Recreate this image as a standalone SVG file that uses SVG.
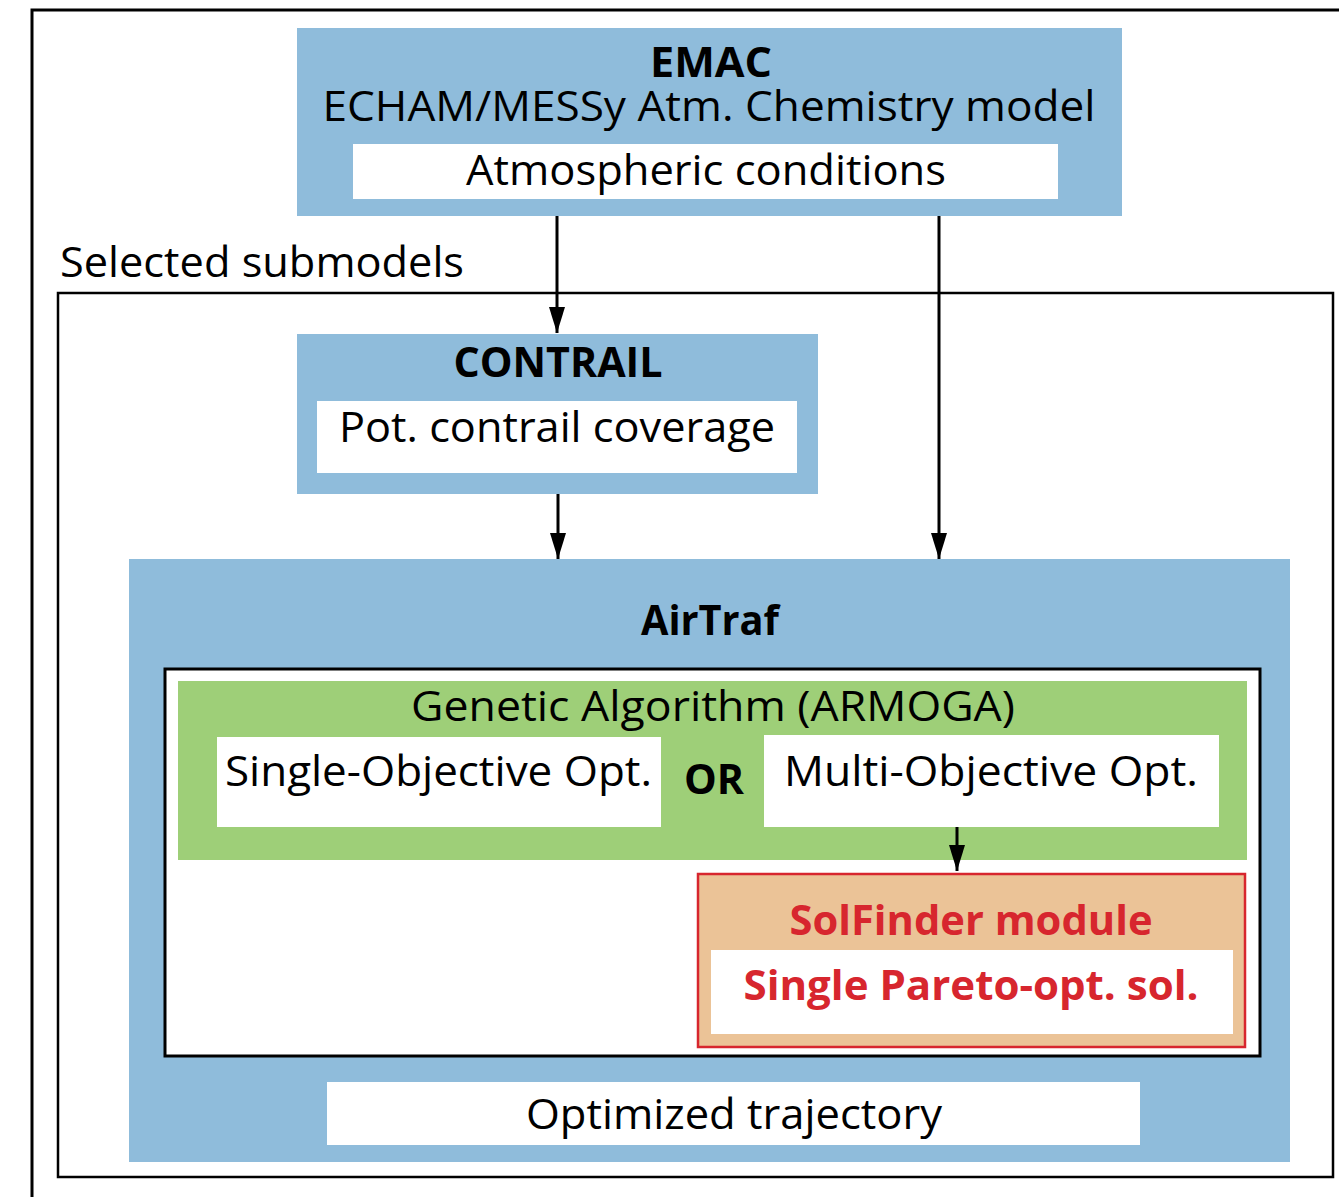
<svg xmlns="http://www.w3.org/2000/svg" width="1339" height="1197" viewBox="0 0 1339 1197">
<defs>
<style>
.t{font-family:"Open Sans","Liberation Sans",sans-serif;font-size:42px;fill:#000}
.b{font-weight:bold}
.r{fill:#d7262e}
.blue{fill:#8fbcdb}
.w{fill:#fff}
.conn{stroke:#000;stroke-width:3;fill:none}
</style>
<marker id="ah" markerWidth="26" markerHeight="16" refX="26" refY="8" orient="auto" markerUnits="userSpaceOnUse" viewBox="0 0 26 16">
<path d="M0,0 L26,8 L0,16 Z" fill="#000"/>
</marker>
</defs>
<rect width="1339" height="1197" fill="#fff"/>
<g id="outer-frame">
<rect x="32" y="10" width="1400" height="1300" fill="none" stroke="#000" stroke-width="3"/>
</g>
<g id="submodels-frame">
<rect x="58" y="293" width="1275" height="884" fill="none" stroke="#000" stroke-width="2.5"/>
<text class="t" x="60" y="277" textLength="404" lengthAdjust="spacingAndGlyphs">Selected submodels</text>
</g>
<g id="emac">
<rect class="blue" x="297" y="28" width="825" height="188"/>
<text class="t b" x="711" y="77" text-anchor="middle" font-size="40" textLength="122" lengthAdjust="spacingAndGlyphs">EMAC</text>
<text class="t" x="709" y="121" text-anchor="middle" font-size="40" textLength="773" lengthAdjust="spacingAndGlyphs">ECHAM/MESSy Atm. Chemistry model</text>
<rect class="w" x="353" y="144" width="705" height="55"/>
<text class="t" x="706" y="185" text-anchor="middle" textLength="480" lengthAdjust="spacingAndGlyphs">Atmospheric conditions</text>
</g>
<g id="contrail">
<rect class="blue" x="297" y="334" width="521" height="160"/>
<text class="t b" x="558" y="377" text-anchor="middle" textLength="209" lengthAdjust="spacingAndGlyphs">CONTRAIL</text>
<rect class="w" x="317" y="401" width="480" height="72"/>
<text class="t" x="557" y="442" text-anchor="middle" textLength="436" lengthAdjust="spacingAndGlyphs">Pot. contrail coverage</text>
</g>
<g id="airtraf">
<rect class="blue" x="129" y="559" width="1161" height="603"/>
<text class="t b" x="710" y="635" text-anchor="middle" textLength="138" lengthAdjust="spacingAndGlyphs">AirTraf</text>
<rect x="165" y="669" width="1095" height="387" fill="#fff" stroke="#000" stroke-width="3"/>
<rect class="w" x="327" y="1082" width="813" height="63"/>
<text class="t" x="734" y="1129" text-anchor="middle" textLength="416" lengthAdjust="spacingAndGlyphs">Optimized trajectory</text>
</g>
<g id="genetic-algorithm">
<rect x="178" y="681" width="1069" height="179" fill="#9ecf78"/>
<text class="t" x="713" y="721" text-anchor="middle" textLength="604" lengthAdjust="spacingAndGlyphs">Genetic Algorithm (ARMOGA)</text>
</g>
<g id="single-objective">
<rect class="w" x="217" y="737" width="444" height="90"/>
<text class="t" x="225" y="786" textLength="427" lengthAdjust="spacingAndGlyphs">Single-Objective Opt.</text>
</g>
<g id="or-label">
<text class="t b" x="714" y="794" text-anchor="middle" textLength="60" lengthAdjust="spacingAndGlyphs">OR</text>
</g>
<g id="multi-objective">
<rect class="w" x="764" y="735" width="455" height="92"/>
<text class="t" x="784" y="786" textLength="414" lengthAdjust="spacingAndGlyphs">Multi-Objective Opt.</text>
</g>
<g id="solfinder">
<rect x="698" y="874" width="547" height="173" fill="#ebc397" stroke="#d7262e" stroke-width="2.5"/>
<text class="t b r" x="971" y="935" text-anchor="middle" textLength="363" lengthAdjust="spacingAndGlyphs">SolFinder module</text>
<rect class="w" x="711" y="950" width="522" height="84"/>
<text class="t b r" x="971" y="1000" text-anchor="middle" textLength="455" lengthAdjust="spacingAndGlyphs">Single Pareto-opt. sol.</text>
</g>
<g id="connectors">
<line class="conn" x1="557" y1="216" x2="557" y2="333" marker-end="url(#ah)"/>
<line class="conn" x1="558" y1="494" x2="558" y2="559" marker-end="url(#ah)"/>
<line class="conn" x1="939" y1="216" x2="939" y2="559" marker-end="url(#ah)"/>
<line class="conn" x1="957" y1="827" x2="957" y2="871" marker-end="url(#ah)"/>
</g>
</svg>
